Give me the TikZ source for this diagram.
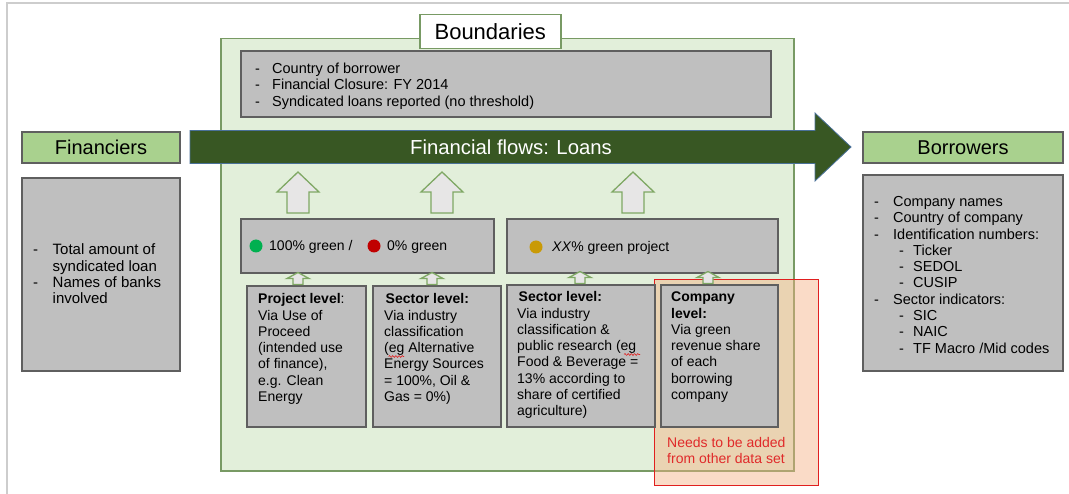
\documentclass[tikz,border=0pt]{standalone}
\usepackage{fontspec}
\setmainfont{Liberation Sans}
\usetikzlibrary{decorations.pathmorphing}

\definecolor{boxgrey}{HTML}{BFBFBF}
\definecolor{boxedge}{HTML}{5F5F5F}
\definecolor{labelgreen}{HTML}{A9D18E}
\definecolor{zonefill}{HTML}{E2EFDA}
\definecolor{zoneedge}{HTML}{789A64}
\definecolor{flowgreen}{HTML}{385723}
\definecolor{flowedge}{HTML}{4A7199}
\definecolor{arrowfill}{HTML}{E7E6E6}
\definecolor{arrowedge}{HTML}{7FA864}
\definecolor{dotgreen}{HTML}{00B050}
\definecolor{dotred}{HTML}{C00000}
\definecolor{dotgold}{HTML}{C99A06}
\definecolor{noteedge}{HTML}{E01F1F}
\definecolor{notefill}{HTML}{F4B183}
\definecolor{notetext}{HTML}{E02A2A}
\definecolor{pageedge}{HTML}{CDCDCD}

\newcommand{\bodysize}{\fontsize{14}{16.25}\selectfont}
\newcommand{\listsize}{\fontsize{14.5}{16.3}\selectfont}
\newcommand{\dashitem}[2][19pt]{\makebox[#1][l]{-}#2}
\newcommand{\nesteditem}[1]{\hspace*{25pt}\makebox[14pt][l]{-}#1}

\tikzset{
  greybox/.style={draw=boxedge, line width=2.2pt, fill=boxgrey, inner sep=0pt, anchor=north west},
  labelbox/.style={draw=boxedge, line width=2pt, fill=labelgreen, inner sep=0pt, anchor=north west,
    font=\fontsize{20}{22}\selectfont},
  txt/.style={inner sep=0pt, anchor=base west, font=\bodysize},
  listtxt/.style={inner sep=0pt, anchor=base west, font=\listsize},
  uparr/.style={draw=arrowedge, line width=1.3pt, fill=arrowfill, line join=miter},
  bigup/.pic={\path[uparr] (-11,0) -- (-11,-21) -- (-21,-21) -- (0,-41) -- (21,-21) -- (11,-21) -- (11,0) -- cycle;},
  smallup/.pic={\path[uparr] (-5,0) -- (-5,-6) -- (-11,-6) -- (0,-12) -- (11,-6) -- (5,-6) -- (5,0) -- cycle;},
  squiggle/.style={draw=noteedge, line width=0.6pt, decorate,
    decoration={snake, amplitude=0.9pt, segment length=3.2pt}}
}

\begin{document}
\begin{tikzpicture}[x=1pt, y=-1pt]
\useasboundingbox (0,0) rectangle (1069,494);
\fill[white] (0,0) rectangle (1069,494);
\draw[pageedge, line width=2pt] (7,494) -- (7,3) -- (1069,3);

% boundary zone with its title tab
\node[draw=zoneedge, line width=1.5pt, fill=zonefill, anchor=north west, inner sep=0pt,
      minimum width=573pt, minimum height=432pt] (zone) at (220,38) {};
\node[draw=zoneedge, line width=1.5pt, fill=white, anchor=north west, inner sep=0pt,
      minimum width=141pt, minimum height=34pt, font=\fontsize{22}{24}\selectfont] (bnd) at (419,14) {Boundaries};

% highlighted area for data from another source
\node[draw=noteedge, line width=1pt, fill=notefill, fill opacity=0.45, anchor=north west, inner sep=0pt,
      minimum width=164pt, minimum height=206pt] (note) at (654,279) {};

% scope conditions
\node[greybox, minimum width=530pt, minimum height=66pt] (scope) at (240,50) {};
\node[listtxt] (scopetext) at (255,73.5) {\parbox[t]{500pt}{%
  \dashitem[17pt]{Country of borrower}\\
  \dashitem[17pt]{Financial Closure: FY 2014}\\
  \dashitem[17pt]{Syndicated loans reported (no threshold)}}};

% main financial flow arrow
\path[fill=flowgreen, draw=flowedge, line width=0.8pt]
  (190,130.5) -- (815,130.5) -- (815,113) -- (851,147) -- (815,181) -- (815,163.5) -- (190,163.5) -- cycle;
\node[text=white, font=\fontsize{20.3}{22}\selectfont, inner sep=0pt] (flowtext) at (511,147) {Financial flows: Loans};

% financiers
\node[labelbox, minimum width=158pt, minimum height=31pt] (fin) at (21,131) {Financiers};
\node[greybox, minimum width=158pt, minimum height=193pt] (finbox) at (21,177) {};
\node[listtxt, font=\fontsize{15}{16.3}\selectfont] (fintext) at (33,255) {\parbox[t]{140pt}{%
  \dashitem[19.5pt]{Total amount of}\\
  \hspace*{19.5pt}syndicated loan\\
  \dashitem[19.5pt]{Names of banks}\\
  \hspace*{19.5pt}involved}};

% borrowers
\node[labelbox, minimum width=200pt, minimum height=31pt] (bor) at (862,131) {Borrowers};
\node[greybox, minimum width=200pt, minimum height=196pt] (borbox) at (862,174) {};
\node[listtxt] (bortext) at (874,206.5) {\parbox[t]{190pt}{%
  \dashitem{Company names}\\
  \dashitem{Country of company}\\
  \dashitem{Identification numbers:}\\
  \nesteditem{Ticker}\\
  \nesteditem{SEDOL}\\
  \nesteditem{CUSIP}\\
  \dashitem{Sector indicators:}\\
  \nesteditem{SIC}\\
  \nesteditem{NAIC}\\
  \nesteditem{TF Macro /Mid codes}}};

% share classes
\node[greybox, minimum width=253pt, minimum height=54pt] (binary) at (240,218) {};
\fill[dotgreen] (256,246) circle (6.5);
\node[txt] (bintext1) at (269,251) {100\% green /};
\fill[dotred] (374,246) circle (6.5);
\node[txt] (bintext2) at (387,251) {0\% green};

\node[greybox, minimum width=271pt, minimum height=54pt] (share) at (506,218) {};
\fill[dotgold] (536,247) circle (6.5);
\node[txt] (sharetext) at (552,252) {\textit{XX}\% green project};

% levels of assessment
\node[greybox, minimum width=119pt, minimum height=141pt] (proj) at (246,285) {};
\node[txt] (projtext) at (258,304) {\parbox[t]{105pt}{%
  \textbf{Project level}:\\ Via Use of\\ Proceed\\ (intended use\\ of finance),\\ e.g. Clean\\ Energy}};

\node[greybox, minimum width=128pt, minimum height=141pt] (sect) at (372,285) {};
\node[txt] (secttext) at (384,304) {\parbox[t]{115pt}{%
  \hspace*{1.5pt}\textbf{Sector level:}\\ Via industry\\ classification\\ (eg Alternative\\ Energy Sources\\ = 100\%, Oil \&\\ Gas = 0\%)}};

\node[greybox, minimum width=148pt, minimum height=142pt] (sectb) at (506,284) {};
\node[txt] (sectbtext) at (517,302) {\parbox[t]{140pt}{%
  \hspace*{1.5pt}\textbf{Sector level:}\\ Via industry\\ classification \&\\ public research (eg\\ Food \& Beverage =\\ 13\% according to\\ share of certified\\ agriculture)}};

\node[greybox, minimum width=117pt, minimum height=142pt] (comp) at (660,284) {};
\node[txt] (comptext) at (671,302) {\parbox[t]{105pt}{%
  \textbf{Company}\\ \textbf{level:}\\ Via green\\ revenue share\\ of each\\ borrowing\\ company}};

% spelling marks under "eg"
\draw[squiggle] (388.5,356.5) -- (404,356.5);
\draw[squiggle] (624,354.5) -- (640,354.5);

\node[txt, text=notetext] (notetext) at (667,447) {\parbox[t]{150pt}{Needs to be added\\ from other data set}};

% block arrows from the levels up to the share classes and into the flow
\pic at (298,284.5) {smallup};
\pic at (432,284.5) {smallup};
\pic at (580,283.5) {smallup};
\pic at (708,283.5) {smallup};
\pic at (298,213) {bigup};
\pic at (442,213) {bigup};
\pic at (633,213) {bigup};
\end{tikzpicture}
\end{document}
